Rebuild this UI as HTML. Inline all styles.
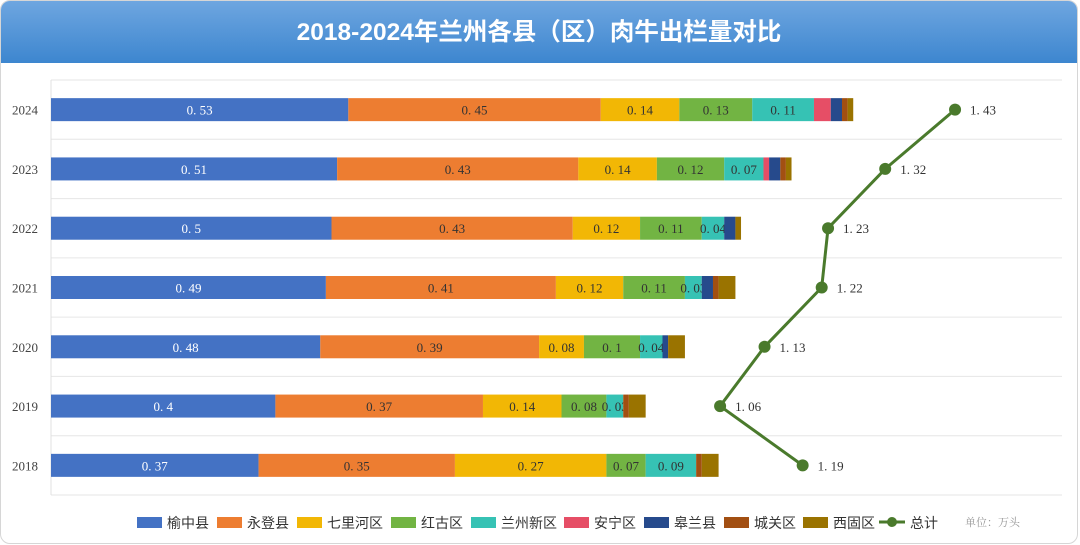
<!DOCTYPE html>
<html><head><meta charset="utf-8">
<style>
html,body{margin:0;padding:0;background:#fff;}
body{width:1080px;height:545px;overflow:hidden;position:relative;font-family:"Liberation Sans","Noto Sans CJK SC",sans-serif;}
#card{position:absolute;left:0;top:0;width:1076px;height:542px;border:1px solid #d6d6d6;border-radius:10px;overflow:hidden;background:#fff;}
#title{position:absolute;left:0;top:0;width:100%;height:62px;background:linear-gradient(#6ea6e0,#3d86cf);color:#fff;font-weight:bold;font-size:24.5px;text-align:center;line-height:64px;font-family:"Liberation Sans","Noto Sans CJK SC",sans-serif;}
svg{position:absolute;left:0;top:0;}
</style></head><body>
<div id="card">
<div id="title">2018-2024年兰州各县（区）肉牛出栏量对比</div>
</div>
<svg id="chart" width="1080" height="545"></svg>
<script>
const years=["2024","2023","2022","2021","2020","2019","2018"];
const seriesNames=["榆中县","永登县","七里河区","红古区","兰州新区","安宁区","皋兰县","城关区","西固区"];
const colors=["#4472C4","#ED7D31","#F2B705","#72B443","#36C2B4","#E64E66","#264A8C","#A24F12","#9A7300"];
const yuzhong=[0.53,0.51,0.5,0.49,0.48,0.4,0.37];
const yongdeng=[0.45,0.43,0.43,0.41,0.39,0.37,0.35];
const qilihe=[0.14,0.14,0.12,0.12,0.08,0.14,0.27];
const honggu=[0.13,0.12,0.11,0.11,0.1,0.08,0.07];
const xinqu=[0.11,0.07,0.04,0.03,0.04,0.03,0.09];
const anning=[0.03,0.01,0,0,0,0,0];
const gaolan=[0.02,0.02,0.02,0.02,0.01,0,0];
const chengguan=[0.01,0.01,0,0.01,0,0.01,0.01];
const xigu=[0.01,0.01,0.01,0.03,0.03,0.03,0.03];
const totals=[1.43,1.32,1.23,1.22,1.13,1.06,1.19];
const series=[yuzhong,yongdeng,qilihe,honggu,xinqu,anning,gaolan,chengguan,xigu];
const labeled=[true,true,true,true,true,false,false,false,false];

const NS="http://www.w3.org/2000/svg";
const svg=document.getElementById('chart');
const X0=51,PT=80,PB=495,SC=561,LSC=635,LX0=47;
const rowH=(PB-PT)/years.length,barH=23;
const xBar=v=>X0+v*SC;
const xLine=v=>LX0+v*LSC;
const yRow=i=>PT+rowH*(i+0.5);
function mk(tag,attrs){const e=document.createElementNS(NS,tag);for(const k in attrs)e.setAttribute(k,attrs[k]);svg.appendChild(e);return e;}

for(let i=0;i<=years.length;i++){
  const g=mk('line',{x1:X0,x2:1062,y1:PT+rowH*i,y2:PT+rowH*i,stroke:'#e6e6e6','stroke-width':1});
  
  
}
const ax=mk('line',{x1:X0,x2:X0,y1:PT,y2:PB,stroke:'#e0e0e0','stroke-width':1});



years.forEach((y,i)=>{
  const t=mk('text',{x:25,y:yRow(i)+5,'text-anchor':'middle','font-size':13,fill:'#444','font-family':'"Liberation Serif","Noto Serif CJK SC",serif'});
  t.textContent=y;
  
  
  let acc=0;
  series.forEach((s,k)=>{
    const v=s[i];
    if(v>0){
      const r=mk('rect',{x:xBar(acc),y:yRow(i)-barH/2,width:xBar(acc+v)-xBar(acc),height:barH,fill:colors[k]});
      
      
      if(labeled[k]){
        const l=mk('text',{x:(xBar(acc)+xBar(acc+v))/2,y:yRow(i)+5,'text-anchor':'middle','font-size':13,fill:k==0?'#fff':'#333','font-family':'"Liberation Serif","Noto Serif CJK SC",serif'});
        l.textContent=String(v).replace('.','. ');
        
        
      }
    }
    acc+=v;
  });
});

const pts=totals.map((v,i)=>xLine(v)+','+yRow(i)).join(' ');
const pl=mk('polyline',{points:pts,fill:'none',stroke:'#4A7A2C','stroke-width':3});


totals.forEach((v,i)=>{
  const c=mk('circle',{cx:xLine(v),cy:yRow(i),r:6,fill:'#4A7A2C'});
  
  
  const t=mk('text',{x:xLine(v)+15,y:yRow(i)+5,'font-size':13,fill:'#333','font-family':'"Liberation Serif","Noto Serif CJK SC",serif'});
  t.textContent=String(v).replace('.','. ');
  
  
});

const lx=[137,217,297,391,471,564,644,724,803];
seriesNames.forEach((n,k)=>{
  const r=mk('rect',{x:lx[k],y:517,width:25,height:11,fill:colors[k]});
  
  
  const t=mk('text',{x:lx[k]+30,y:528,'font-size':14,fill:'#333','font-family':'"Liberation Sans","Noto Sans CJK SC",sans-serif'});
  t.textContent=n;
  
  
});
const ll=mk('line',{x1:879,x2:905,y1:522,y2:522,stroke:'#4A7A2C','stroke-width':3});


const lc=mk('circle',{cx:892,cy:522,r:5,fill:'#4A7A2C'});


const lt=mk('text',{x:910,y:528,'font-size':14,fill:'#333','font-family':'"Liberation Sans","Noto Sans CJK SC",sans-serif'});
lt.textContent='总计';


const u=mk('text',{x:965,y:526,'font-size':11,fill:'#999','font-family':'"Liberation Serif","Noto Serif CJK SC",serif'});
u.textContent='单位：万头';


</script>
</body></html>
